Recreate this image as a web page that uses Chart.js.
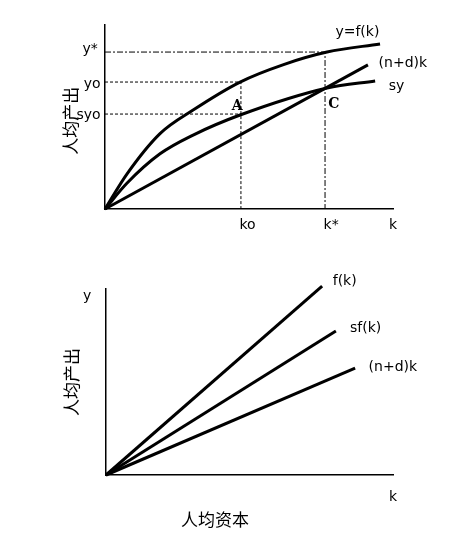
<!DOCTYPE html>
<html>
<head>
<meta charset="utf-8">
<script src="https://cdn.jsdelivr.net/npm/chart.js@4"></script>
<style>
  body { margin: 0; background: #fff; }
  .panel { position: absolute; left: 0; width: 453px; }
</style>
</head>
<body>
<div class="panel" style="top:0;height:260px"><canvas id="top"></canvas></div>
<div class="panel" style="top:260px;height:287px"><canvas id="bottom"></canvas></div>
<script>
// top panel: y = f(k), sy, (n+d)k
const topOutput = [
  { x: 0, y: 0 }, { x: 7.6, y: 19 }, { x: 19.1, y: 41 }, { x: 30.6, y: 53.8 },
  { x: 46.9, y: 69 }, { x: 62, y: 78.5 }, { x: 77.1, y: 85.3 }, { x: 95.5, y: 89.7 },
];
const topSaving = [
  { x: 0, y: 0 }, { x: 7.6, y: 14 }, { x: 19.1, y: 30 }, { x: 30.6, y: 40.2 },
  { x: 46.9, y: 51.1 }, { x: 77.1, y: 65.8 }, { x: 93.8, y: 69.6 },
];
const topDepreciation = [{ x: 0, y: 0 }, { x: 91.3, y: 78.3 }];
const kZero = 47.2, kStar = 76.4;
const yStar = 85.3, yZero = 69, syZero = 51.6;

// bottom panel: straight lines
const bottomOutput = [{ x: 0, y: 0 }, { x: 75.3, y: 101.6 }];
const bottomSaving = [{ x: 0, y: 0 }, { x: 80.1, y: 77.4 }];
const bottomDepreciation = [{ x: 0, y: 0 }, { x: 86.8, y: 57.5 }];

const textPlugin = {
  id: "texts",
  afterDraw(chart, args, opts) {
    const { ctx, scales } = chart;
    ctx.save();
    ctx.fillStyle = "#000";
    ctx.textBaseline = "middle";
    opts.items.forEach((t) => {
      ctx.font = t.font || "14px 'DejaVu Sans'";
      ctx.textAlign = t.align || "left";
      const px = scales.x.getPixelForValue(t.x);
      const py = scales.y.getPixelForValue(t.y);
      if (t.rotate) {
        ctx.save();
        ctx.translate(px, py);
        ctx.rotate(-Math.PI / 2);
        ctx.fillText(t.text, 0, 0);
        ctx.restore();
      } else {
        ctx.fillText(t.text, px, py);
      }
    });
    ctx.restore();
  },
};

function curve(data, smooth) {
  return {
    data, borderColor: "#000", borderWidth: 3, pointRadius: 0,
    cubicInterpolationMode: smooth ? "monotone" : "default", tension: 0,
  };
}
function guide(data, dash) {
  return { data, borderColor: "#000", borderWidth: 1, pointRadius: 0, borderDash: dash };
}
function scales(yMax) {
  const axis = {
    type: "linear", min: 0, max: 100,
    grid: { display: false }, ticks: { display: false },
    border: { display: true, color: "#000", width: 1.5 },
  };
  return {
    x: { ...axis, afterFit: (s) => { s.height = 0; } },
    y: { ...axis, max: yMax, afterFit: (s) => { s.width = 0; } },
  };
}
const cjk = "17px 'Noto Sans CJK SC'";

new Chart(document.getElementById("top"), {
  type: "line",
  data: {
    datasets: [
      guide([{ x: 0, y: yStar }, { x: kStar, y: yStar }, { x: kStar, y: 0 }], [6, 2, 2, 2]),
      guide([{ x: 0, y: yZero }, { x: kZero, y: yZero }, { x: kZero, y: 0 }], [3, 2]),
      guide([{ x: 0, y: syZero }, { x: kZero, y: syZero }], [3, 2]),
      curve(topOutput, true),
      curve(topSaving, true),
      curve(topDepreciation, false),
    ],
  },
  options: {
    animation: false, responsive: true, maintainAspectRatio: false,
    layout: { padding: { left: 105, top: 25, right: 60, bottom: 51 } },
    scales: scales(100),
    clip: false,
    plugins: {
      legend: { display: false }, tooltip: { enabled: false },
      texts: { items: [
        { text: "y*", x: -2.5, y: 86.5, align: "right" },
        { text: "yo", x: -1.5, y: 68, align: "right" },
        { text: "syo", x: -1.5, y: 51, align: "right" },
        { text: "ko", x: 49.5, y: -9, align: "center" },
        { text: "k*", x: 78.5, y: -9, align: "center" },
        { text: "k", x: 100, y: -9, align: "center" },
        { text: "y=f(k)", x: 80, y: 96 },
        { text: "(n+d)k", x: 95, y: 79 },
        { text: "sy", x: 98.5, y: 66.5 },
        { text: "A", x: 44, y: 56, font: "bold 14px 'DejaVu Serif'" },
        { text: "C", x: 77.5, y: 57, font: "bold 14px 'DejaVu Serif'" },
        { text: "人均产出", x: -12, y: 48, rotate: true, align: "center", font: cjk },
      ] },
    },
  },
  plugins: [textPlugin],
});

new Chart(document.getElementById("bottom"), {
  type: "line",
  data: {
    datasets: [
      curve(bottomOutput, false),
      curve(bottomSaving, false),
      curve(bottomDepreciation, false),
    ],
  },
  options: {
    animation: false, responsive: true, maintainAspectRatio: false,
    layout: { padding: { left: 106, top: 29, right: 60, bottom: 72 } },
    scales: scales(100),
    clip: false,
    plugins: {
      legend: { display: false }, tooltip: { enabled: false },
      texts: { items: [
        { text: "y", x: -8, y: 96 },
        { text: "k", x: 100, y: -12, align: "center" },
        { text: "人均资本", x: 38, y: -24, align: "center", font: cjk },
        { text: "f(k)", x: 79, y: 104 },
        { text: "sf(k)", x: 85, y: 79 },
        { text: "(n+d)k", x: 91.5, y: 58 },
        { text: "人均产出", x: -12, y: 50, rotate: true, align: "center", font: cjk },
      ] },
    },
  },
  plugins: [textPlugin],
});
</script>
</body>
</html>
